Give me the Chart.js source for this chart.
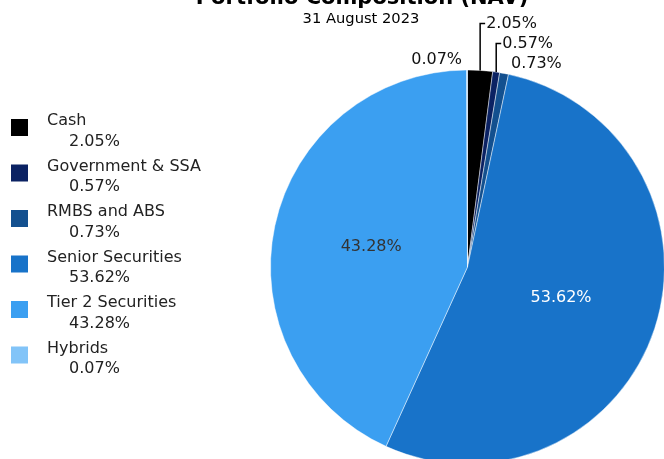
<!DOCTYPE html>
<html>
<head>
<meta charset="utf-8">
<title>Portfolio Composition (NAV)</title>
<script src="https://cdn.jsdelivr.net/npm/chart.js@4.4.0/dist/chart.umd.min.js"></script>
<style>
  html, body { margin: 0; padding: 0; background: #fff; overflow: hidden; }
  #wrap { position: relative; width: 664px; height: 459px; }
</style>
</head>
<body>
<div id="wrap"><canvas id="compositionChart" width="664" height="459"></canvas></div>
<script>
const categories = ["Cash", "Government & SSA", "RMBS and ABS", "Senior Securities", "Tier 2 Securities", "Hybrids"];
const weights = [2.05, 0.57, 0.73, 53.62, 43.28, 0.07];
const sliceColors = ["#000000", "#0b2263", "#13508f", "#1873c9", "#3b9ff1", "#82c4f8"];
const chartTitle = "Portfolio Composition (NAV)";
const chartSubtitle = "31 August 2023";

const FONT = "'DejaVu Sans', Verdana, sans-serif";

function pct(v) {
    return v.toFixed(2) + "%";
}

function isDark(hex) {
    const n = parseInt(hex.slice(1), 16);
    const r = (n >> 16) & 255, g = (n >> 8) & 255, b = n & 255;
    return (0.299 * r + 0.587 * g + 0.114 * b) < 115;
}

// title, date and the legend on the left
const headerLegend = {
    id: "headerLegend",
    afterDraw(chart) {
        const ctx = chart.ctx;
        ctx.save();
        ctx.textAlign = "center";
        ctx.textBaseline = "alphabetic";
        ctx.fillStyle = "#000";
        ctx.font = "bold 21px " + FONT;
        ctx.fillText(chartTitle, 362, 4);
        ctx.font = "14.7px " + FONT;
        ctx.fillText(chartSubtitle, 361, 22.5);

        ctx.textAlign = "left";
        ctx.font = "16px " + FONT;
        categories.forEach((name, i) => {
            const base = 125 + i * 45.5;
            ctx.fillStyle = sliceColors[i];
            ctx.fillRect(11, base - 6, 17, 17);
            ctx.fillStyle = "#222";
            ctx.fillText(name, 47, base);
            ctx.fillText(pct(weights[i]), 69, base + 20.7);
        });
        ctx.restore();
    }
};

// percentage labels: big slices inside, small ones outside with leader lines
const sliceLabels = {
    id: "sliceLabels",
    afterDatasetsDraw(chart) {
        const ctx = chart.ctx;
        const arcs = chart.getDatasetMeta(0).data;
        const values = chart.data.datasets[0].data;
        const outside = [];
        ctx.save();
        ctx.font = "16px " + FONT;
        ctx.textBaseline = "middle";

        arcs.forEach((arc, i) => {
            const v = values[i];
            if (v >= 5) {
                const p = arc.tooltipPosition(true);
                ctx.textAlign = "center";
                ctx.fillStyle = isDark(sliceColors[i]) ? "#fff" : "#333";
                ctx.fillText(pct(v), p.x, p.y);
            } else {
                const a = arc.getProps(["x", "y", "startAngle", "endAngle", "outerRadius"], true);
                const mid = (a.startAngle + a.endAngle) / 2;
                outside.push({ v, x: a.x, y: a.y, r: a.outerRadius, cos: Math.cos(mid), sin: Math.sin(mid) });
            }
        });

        const gap = 20;
        [1, -1].forEach((side) => {
            const list = outside
                .filter((o) => (side === 1 ? o.cos >= 0 : o.cos < 0))
                .sort((a, b) => b.sin - a.sin);
            let prevY = Infinity;
            list.forEach((o) => {
                const ax = o.x + o.cos * (o.r + 10);
                const ay = o.y + o.sin * (o.r + 10);
                let ly = Math.min(ay, prevY - gap);
                ctx.fillStyle = "#111";
                ctx.textAlign = side === 1 ? "left" : "right";
                if (ay - ly > 1) {
                    const ex = o.x + o.cos * o.r;
                    const ey = o.y + o.sin * o.r;
                    ctx.strokeStyle = "#000";
                    ctx.lineWidth = 1.5;
                    ctx.beginPath();
                    ctx.moveTo(ex, ey);
                    ctx.lineTo(ex, ly);
                    ctx.lineTo(ex + side * 5, ly);
                    ctx.stroke();
                    ctx.fillText(pct(o.v), ex + side * 6, ly);
                } else {
                    ctx.fillText(pct(o.v), ax + side * 5, ly);
                }
                prevY = ly;
            });
        });
        ctx.restore();
    }
};

new Chart(document.getElementById("compositionChart"), {
    type: "pie",
    data: {
        labels: categories,
        datasets: [
            {
                data: weights,
                backgroundColor: sliceColors,
                borderColor: "rgba(255,255,255,0.45)",
                borderWidth: 1,
                radius: 197,
                clip: false,
            },
        ],
    },
    options: {
        responsive: false,
        animation: false,
        devicePixelRatio: 1,
        events: [],
        layout: {
            padding: { left: 271, right: 0, top: 75, bottom: 0 },
        },
        plugins: {
            legend: { display: false },
            tooltip: { enabled: false },
            title: { display: false },
        },
    },
    plugins: [sliceLabels, headerLegend],
});
</script>
</body>
</html>
